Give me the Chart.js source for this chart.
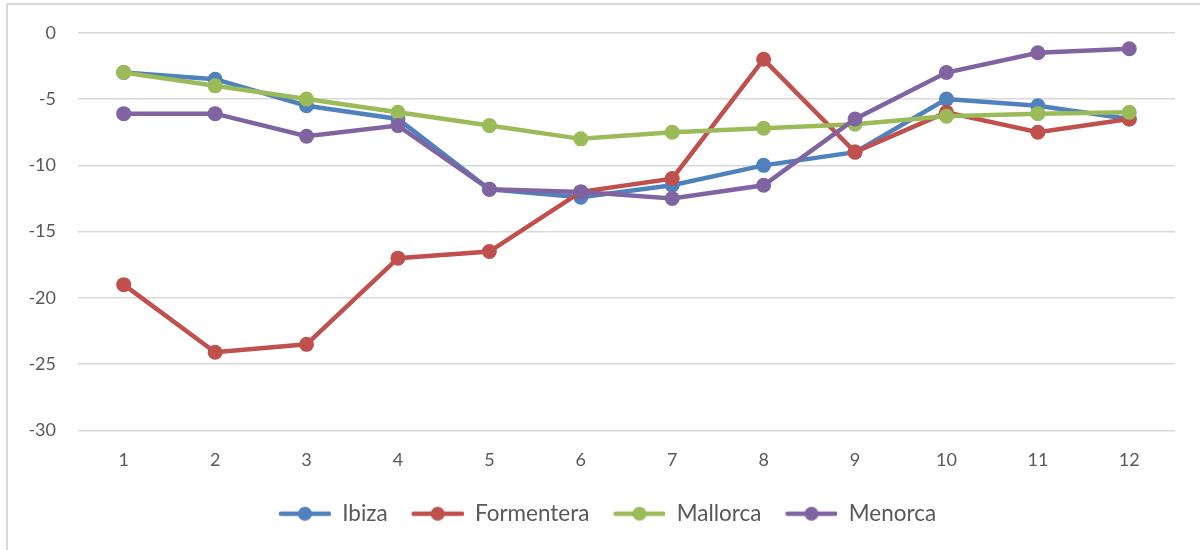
<!DOCTYPE html>
<html>
<head>
<meta charset="utf-8">
<script src="https://cdn.jsdelivr.net/npm/chart.js@4.4.1/dist/chart.umd.min.js"></script>
<style>
  html, body { margin: 0; padding: 0; background: #fff; }
  #frame {
    position: absolute; left: 6px; top: 3px; width: 1194px; height: 547px;
    border-left: 2px solid #d9d9d9; border-top: 2px solid #d9d9d9;
  }
  #wrap { position: absolute; left: 0; top: 0; width: 1200px; height: 550px; }
</style>
</head>
<body>
<div id="frame"></div>
<div id="wrap"><canvas id="chart"></canvas></div>
<script>
const months = ["1", "2", "3", "4", "5", "6", "7", "8", "9", "10", "11", "12"]
const ibiza = [-3, -3.5, -5.5, -6.5, -11.8, -12.4, -11.5, -10, -9, -5, -5.5, -6.5]
const formentera = [-19, -24.1, -23.5, -17, -16.5, -12, -11, -2, -9, -6, -7.5, -6.5]
const mallorca = [-3, -4, -5, -6, -7, -8, -7.5, -7.2, -6.9, -6.3, -6.1, -6]
const menorca = [-6.1, -6.1, -7.8, -7, -11.8, -12, -12.5, -11.5, -6.5, -3, -1.5, -1.2]

const seriesNames = ["Ibiza", "Formentera", "Mallorca", "Menorca"]
const seriesData = [ibiza, formentera, mallorca, menorca]
const colors = ["#4f81bd", "#c0504d", "#9bbb59", "#8064a2"]

const FONT = "Lato, 'Open Sans', sans-serif"

// legend marker: empty gap on the left, then a line with a dot in the middle
const GAP = 14
function legendMarker(color) {
  const c = document.createElement("canvas")
  c.width = GAP + 52
  c.height = 16
  const ctx = c.getContext("2d")
  ctx.strokeStyle = color
  ctx.lineWidth = 4.5
  ctx.lineCap = "round"
  ctx.beginPath()
  ctx.moveTo(GAP + 2, 8)
  ctx.lineTo(GAP + 50, 8)
  ctx.stroke()
  ctx.fillStyle = color
  ctx.beginPath()
  ctx.arc(GAP + 26, 8, 7, 0, Math.PI * 2)
  ctx.fill()
  return c
}
const markers = colors.map(legendMarker)

// nudge the legend row a little to the right, like the original
const legendShift = {
  id: "legendShift",
  afterLayout(chart) {
    if (chart.legend) chart.legend.left += 26
  },
}

const datasets = seriesNames.map((name, i) => ({
  label: name,
  data: seriesData[i],
  borderColor: colors[i],
  backgroundColor: colors[i],
  borderWidth: 4.5,
  pointRadius: 7.5,
  pointBorderWidth: 0,
  pointBackgroundColor: colors[i],
  tension: 0,
  order: seriesNames.length - i,
}))

new Chart(document.getElementById("chart"), {
  type: "line",
  data: { labels: months, datasets },
  plugins: [legendShift],
  options: {
    responsive: true,
    maintainAspectRatio: false,
    animation: false,
    layout: { padding: { top: 21, right: 25, bottom: 15, left: 0 } },
    plugins: {
      tooltip: { enabled: false },
      legend: {
        display: true,
        position: "bottom",
        labels: {
          usePointStyle: true,
          pointStyleWidth: GAP + 52,
          padding: 10,
          color: "#595959",
          font: { family: FONT, size: 22.5 },
          generateLabels: (chart) => chart.data.datasets.map((ds, i) => ({
            text: ds.label,
            pointStyle: markers[i],
            fillStyle: ds.borderColor,
            strokeStyle: ds.borderColor,
            lineWidth: 0,
            fontColor: "#595959",
            datasetIndex: i,
            hidden: false,
          })),
        },
      },
    },
    scales: {
      x: {
        offset: true,
        afterFit: (scale) => { scale.height = 62 },
        grid: { display: false, drawTicks: false },
        border: { display: false },
        ticks: { color: "#595959", padding: 19, font: { family: FONT, size: 18 } },
      },
      y: {
        min: -30,
        max: 0,
        afterFit: (scale) => { scale.width = 78 },
        grid: { color: "#d9d9d9", lineWidth: 1.5, drawTicks: false },
        border: { display: false },
        ticks: { stepSize: 5, color: "#595959", padding: 22, font: { family: FONT, size: 18 } },
      },
    },
  },
})
</script>
</body>
</html>
